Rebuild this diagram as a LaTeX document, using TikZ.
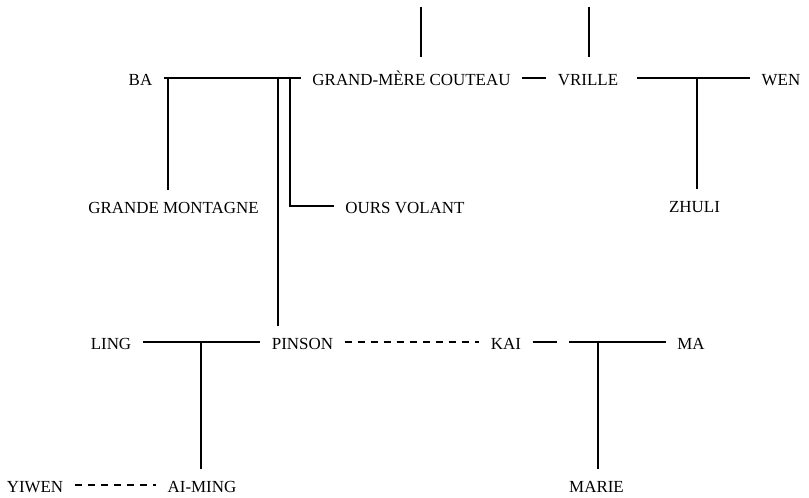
\documentclass[tikz,border=0pt]{standalone}
\usepackage{fontspec}
\setmainfont{Liberation Serif}

\begin{document}
\begin{tikzpicture}[x=1bp,y=-1bp,line width=1.2bp,
	person/.style={inner xsep=11bp, inner ysep=8bp, text height=15bp, text depth=0bp},
	affair/.style={dash pattern=on 7bp off 6bp}]
		\fontsize{17}{20}\selectfont
		\useasboundingbox (0,0) rectangle (809,498);

		\node[person] (BA)			at (140.5,78)	{BA};
		\node[person] (GM_COUTEAU)	at (411.5,78)	{GRAND-MÈRE COUTEAU};
		\node[person] (VRILLE)		at (588,78)		{VRILLE};
		\node[person] (WEN)			at (781,78)		{WEN};
		\node[person] (G_MONTAGNE)	at (173.5,206)	{GRANDE MONTAGNE};
		\node[person] (OURS_VOLANT)	at (405,206)	{OURS VOLANT};
		\node[person] (ZHULI)		at (694.5,205)	{ZHULI};
		\node[person] (LING)		at (111,342)	{LING};
		\node[person] (PINSON)		at (302.5,342)	{PINSON};
		\node[person] (KAI)			at (506,342)	{KAI};
		\node[person] (MA)			at (691,342)	{MA};
		\node[person] (YIWEN)		at (35,485)		{YIWEN};
		\node[person] (AI_MING)		at (202,485)	{AI-MING};
		\node[person] (MARIE)		at (596.5,485)	{MARIE};

		% where the children hang off
		\coordinate (BA_GM)		at (168,0);
		\coordinate (BA_PI)		at (278,0);
		\coordinate (BA_OV)		at (290,0);
		\coordinate (VR_ZH)		at (697,0);
		\coordinate (LI_AM)		at (201,0);
		\coordinate (KA_MR)		at (598,0);
		\coordinate (VR_WEN)	at (637,0);
		\coordinate (KAI_END)	at (557,0);
		\coordinate (MA_START)	at (569,0);
		\coordinate (GMC_TOP)	at (421,7);
		\coordinate (GMC_BOT)	at (421,57);
		\coordinate (VR_TOP)	at (589,7);
		\coordinate (VR_BOT)	at (589,57);

		\draw	(BA.east)				-- (GM_COUTEAU.west)
				(GM_COUTEAU.east)		-- (VRILLE.west)
				(VRILLE.east -| VR_WEN)	-- (WEN.west)
				(BA.east -| BA_GM)		-- (BA_GM |- G_MONTAGNE.north)
				(BA.east -| BA_PI)		-- (BA_PI |- PINSON.north)
				(BA.east -| BA_OV)		-- (BA_OV |- OURS_VOLANT.west) -- (OURS_VOLANT.west)
				(WEN.west -| VR_ZH)		-- (VR_ZH |- ZHULI.north)
				(GMC_TOP)				-- (GMC_BOT)
				(VR_TOP)				-- (VR_BOT)
				(LING.east)				-- (PINSON.west)
				(LING.east -| LI_AM)	-- (LI_AM |- AI_MING.north)
				(KAI.east)				-- (KAI.east -| KAI_END)
				(MA.west -| MA_START)	-- (MA.west)
				(MA.west -| KA_MR)		-- (KA_MR |- MARIE.north)
				;
		\draw[affair]	(PINSON.east)	-- (KAI.west)
						(YIWEN.east)	-- (AI_MING.west)
						;

	\end{tikzpicture}
\end{document}
